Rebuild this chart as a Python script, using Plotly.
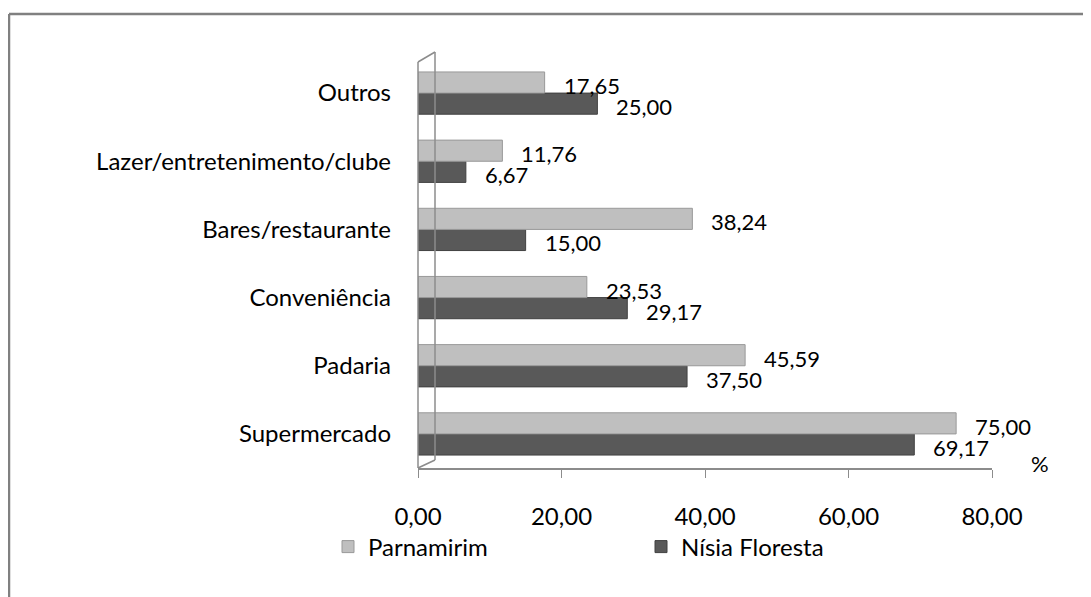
import plotly.graph_objects as go

categories = ["Supermercado", "Padaria", "Conveniência", "Bares/restaurante",
              "Lazer/entretenimento/clube", "Outros"]
parnamirim = [75.00, 45.59, 23.53, 38.24, 11.76, 17.65]
nisia = [69.17, 37.50, 29.17, 15.00, 6.67, 25.00]
x_ticks = [0, 20, 40, 60, 80]

FONT = "Lato"
FS = 24
OFF = 8  # page body margin
W, H = 1083, 589
L, T = 410, 51
pw, ph = 574, 409
R, B = W - L - pw, H - T - ph
BARGAP = 0.38

def px(x):
    return (x - OFF - L) / pw

def py(y):
    return (OFF + T + ph - y) / ph

def fmt(v):
    return f"{v:.2f}".replace(".", ",")

fig = go.Figure()
fig.add_trace(go.Bar(
    y=categories, x=nisia, name="Nísia Floresta", orientation="h",
    marker=dict(color="#595959", line=dict(color="#404040", width=1)),
    legendrank=2,
))
fig.add_trace(go.Bar(
    y=categories, x=parnamirim, name="Parnamirim", orientation="h",
    marker=dict(color="#BFBFBF", line=dict(color="#999999", width=1)),
    legendrank=1,
))

half = (1 - BARGAP) / 4
annotations = []
for i, (p, n) in enumerate(zip(parnamirim, nisia)):
    annotations.append(dict(x=p, y=i + half, xref="x", yref="y", text=fmt(p),
                            showarrow=False, xanchor="left", yanchor="middle",
                            xshift=17, yshift=-3, font=dict(size=22)))
    annotations.append(dict(x=n, y=i - half, xref="x", yref="y", text=fmt(n),
                            showarrow=False, xanchor="left", yanchor="middle",
                            xshift=17, yshift=-3, font=dict(size=22)))
annotations.append(dict(text="%", xref="paper", yref="paper", x=px(1040), y=py(463),
                        xanchor="center", yanchor="middle",
                        showarrow=False, font=dict(size=22)))

wall = dict(color="#8c8c8c", width=1.5)
shapes = [
    # outer frame (top and left)
    dict(type="line", xref="paper", yref="paper", x0=px(9), x1=px(W + 20), y0=py(14), y1=py(14),
         line=dict(color="#808080", width=2.5)),
    dict(type="line", xref="paper", yref="paper", x0=px(9), x1=px(9), y0=py(14), y1=py(H + 20),
         line=dict(color="#808080", width=2.5)),
    # 3D walls
    dict(type="line", xref="paper", yref="paper", x0=0, x1=0, y0=0, y1=py(62), line=wall),
    dict(type="line", xref="paper", yref="paper", x0=px(435), x1=px(435), y0=py(460), y1=py(52), line=wall),
    dict(type="line", xref="paper", yref="paper", x0=0, x1=px(435), y0=py(62), y1=py(52), line=wall),
    dict(type="line", xref="paper", yref="paper", x0=0, x1=px(435), y0=0, y1=py(460), line=wall),
]

fig.update_layout(
    width=W, height=H,
    margin=dict(l=L, r=R, t=T, b=B, autoexpand=False),
    paper_bgcolor="white", plot_bgcolor="white",
    barmode="group", bargap=BARGAP, bargroupgap=0,
    font=dict(family=FONT, size=FS, color="#000000"),
    showlegend=True,
    legend=dict(orientation="h", x=px(328), y=py(547), xanchor="left", yanchor="middle",
                entrywidth=268, entrywidthmode="pixels", font=dict(size=FS),
                itemwidth=30, traceorder="normal", bgcolor="rgba(0,0,0,0)"),
    xaxis=dict(range=[0, 80], tickvals=x_ticks, ticktext=[fmt(v) for v in x_ticks],
               showgrid=False, zeroline=False, showline=True, linecolor="#8c8c8c", linewidth=1.5,
               ticks="outside", ticklen=8, tickcolor="#8c8c8c", ticklabelstandoff=18,
               tickfont=dict(size=FS)),
    yaxis=dict(categoryorder="array", categoryarray=categories, showgrid=False,
               zeroline=False, showline=False, ticks="", ticklabelstandoff=26,
               range=[-0.5, 5.5], tickfont=dict(size=FS)),
    shapes=shapes,
    annotations=annotations,
)

fig.write_html("out.html")
